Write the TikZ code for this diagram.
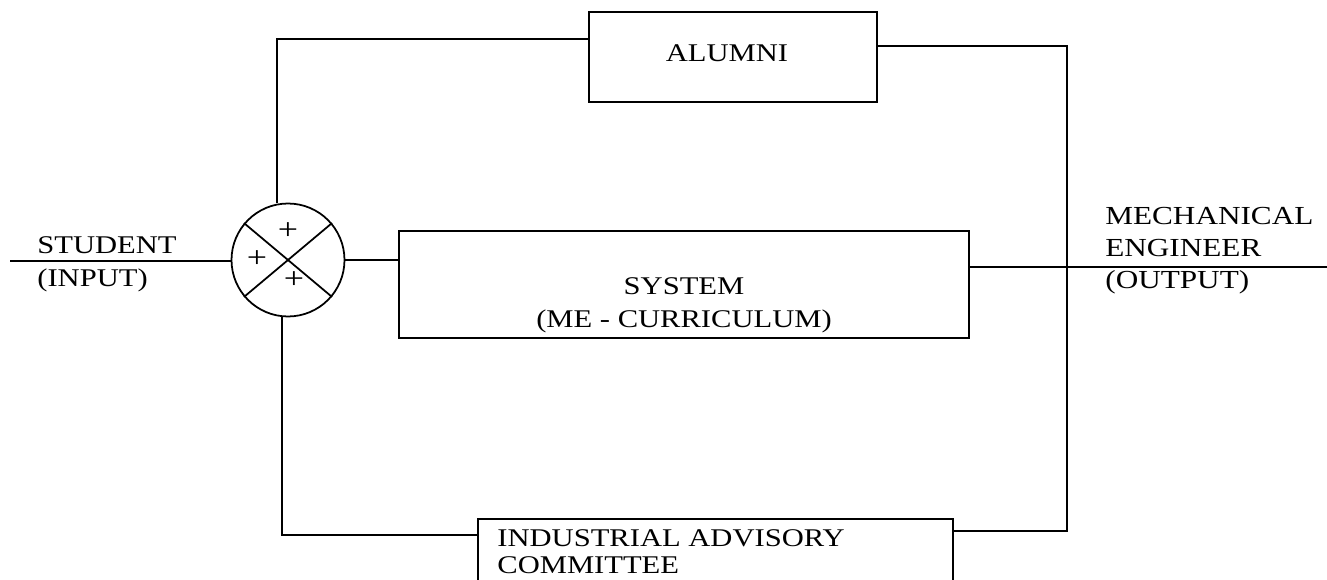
\documentclass[tikz,border=0pt]{standalone}
\usepackage{fontspec}
\setmainfont[FakeStretch=1.2]{Liberation Serif}
\usetikzlibrary{positioning}

\begin{document}
\begin{tikzpicture}[x=0.02cm,y=-0.02cm]
\tikzset{
  blockbox/.style={draw,line width=1pt,inner sep=0pt},
  sumnode/.style={circle,draw,line width=1pt,minimum size=2.26cm,inner sep=0pt},
  wire/.style={line width=1pt},
  txt/.style={inner sep=0pt,font=\fontsize{14.5}{16.5}\selectfont,align=left},
  plus/.style={inner sep=0pt,font=\fontsize{17}{17}\selectfont}
}
\useasboundingbox (0,0) rectangle (1327,580);
\clip (0,0) rectangle (1327,580);
% blocks
\node[sumnode] (n_sum) at (288,260) {};
\node[blockbox,minimum width=5.76cm,minimum height=1.80cm] (n_alumni) at (733,57) {};
\node[blockbox,minimum width=11.40cm,minimum height=2.14cm] (n_system) at (684,284.5) {};
\node[blockbox,minimum width=9.50cm,minimum height=1.42cm] (n_iac) at (715.5,554.5) {};
% texts
\node[txt] (t_alumni) at (727,53) {ALUMNI};
\node[txt,align=center,anchor=north,font=\fontsize{14.5}{18.8}\selectfont] (t_system) at (684,277) {SYSTEM\\(ME - CURRICULUM)};
\node[txt,anchor=north west,font=\fontsize{14.5}{15.5}\selectfont] (t_iac) at (497,529) {INDUSTRIAL ADVISORY\\COMMITTEE};
\node[txt,anchor=north west,font=\fontsize{14.5}{18.8}\selectfont] (t_student) at (37,236) {STUDENT\\(INPUT)};
\node[txt,anchor=north west,font=\fontsize{14.8}{18.2}\selectfont] (t_output) at (1105,207) {MECHANICAL\\ENGINEER\\(OUTPUT)};
\node[plus] (t_p1) at (288,231) {+};
\node[plus] (t_p2) at (257,259) {+};
\node[plus] (t_p3) at (294,280) {+};
% wires
\coordinate (c_in) at (10,261);
\coordinate (c_out) at (1327,267);
\coordinate (c_tl) at (277,39);
\coordinate (c_tr) at (1067,46);
\coordinate (c_br) at (1067,531);
\coordinate (c_bl) at (282,535);
\draw[wire] (n_sum.140) -- (n_sum.-40);
\draw[wire] (n_sum.40) -- (n_sum.220);
\draw[wire] (c_in) -- (c_in -| n_sum.west);
\draw[wire] (n_sum) -- (n_system.west |- n_sum);
\draw[wire] (n_system.east |- c_out) -- (c_out);
\draw[wire] (n_alumni.west |- c_tl) -- (c_tl) -- (c_tl |- n_sum.north);
\draw[wire] (n_alumni.east |- c_tr) -- (c_tr) -- (c_br) -- (n_iac.east |- c_br);
\draw[wire] (n_iac.west |- c_bl) -- (c_bl) -- (c_bl |- n_sum.south);
\end{tikzpicture}
\end{document}
